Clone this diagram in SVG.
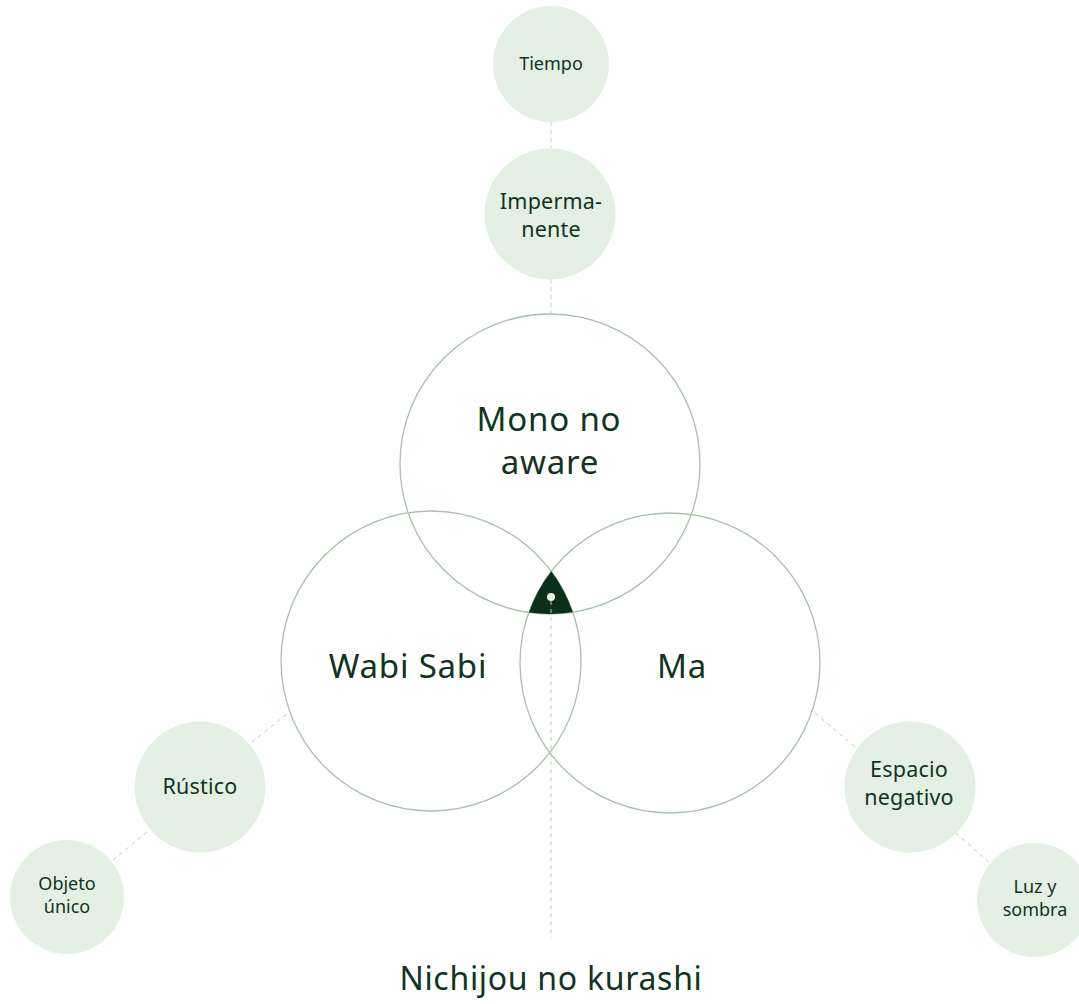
<svg xmlns="http://www.w3.org/2000/svg" width="1079" height="1004" viewBox="0 0 1079 1004">
<style>
.big{fill:none;stroke:#a9c1a9;stroke-width:1.3}
.sm{fill:#e5f0e5}
.t{font-family:"Noto Sans",Lato,sans-serif;fill:#0f3521;text-anchor:middle}
.L{font-size:33px;letter-spacing:0.8px}
.M{font-size:21.5px;letter-spacing:0.2px}
.S{font-size:18px}
.conn{stroke:#c4c8c4;stroke-width:1;stroke-dasharray:4 4;fill:none}
</style>
<rect width="1079" height="1004" fill="#ffffff"/>
<g id="connectors">
<line class="conn" x1="551" y1="122" x2="551" y2="148"/>
<line class="conn" x1="551" y1="279" x2="551" y2="314"/>
<line class="conn" x1="252" y1="742" x2="288" y2="713"/>
<line class="conn" x1="113" y1="860" x2="147" y2="832"/>
<line class="conn" x1="815" y1="713" x2="855" y2="747"/>
<line class="conn" x1="956" y1="833" x2="990" y2="863"/>
</g>
<g id="mono-no-aware">
<circle class="big" cx="550" cy="464" r="150"/>
<text class="t L" x="549" y="431">Mono no</text>
<text class="t L" x="550" y="474">aware</text>
</g>
<g id="wabi-sabi">
<circle class="big" cx="431" cy="661" r="150"/>
<text class="t L" x="408" y="678">Wabi Sabi</text>
</g>
<g id="ma">
<circle class="big" cx="670" cy="663" r="150"/>
<text class="t L" x="682" y="678">Ma</text>
</g>
<g id="nichijou-no-kurashi">
<path d="M551.3 571.3 A150 150 0 0 1 572.8 612.2 A150 150 0 0 1 528.8 612.5 A150 150 0 0 1 551.3 571.3 Z" fill="#0a3019"/>
<line class="conn" x1="551" y1="601" x2="551" y2="938"/>
<circle cx="551" cy="597" r="4" fill="#e5f0e5"/>
<text class="t" x="551" y="990" font-size="32" letter-spacing="0.7">Nichijou no kurashi</text>
</g>
<g id="tiempo">
<circle class="sm" cx="551" cy="64" r="58"/>
<text class="t S" x="551" y="70">Tiempo</text>
</g>
<g id="impermanente">
<circle class="sm" cx="550" cy="214" r="65.5"/>
<text class="t M" x="551" y="209">Imperma-</text>
<text class="t M" x="551" y="237">nente</text>
</g>
<g id="rustico">
<circle class="sm" cx="200" cy="787" r="65.5"/>
<text class="t M" x="200" y="794">Rústico</text>
</g>
<g id="objeto-unico">
<circle class="sm" cx="67" cy="897" r="57"/>
<text class="t S" x="67" y="890">Objeto</text>
<text class="t S" x="67" y="913">único</text>
</g>
<g id="espacio-negativo">
<circle class="sm" cx="910" cy="787" r="65.5"/>
<text class="t M" x="909" y="777">Espacio</text>
<text class="t M" x="909" y="805">negativo</text>
</g>
<g id="luz-y-sombra">
<circle class="sm" cx="1034" cy="900" r="57"/>
<text class="t S" x="1035" y="893">Luz y</text>
<text class="t S" x="1035" y="916">sombra</text>
</g>
</svg>
